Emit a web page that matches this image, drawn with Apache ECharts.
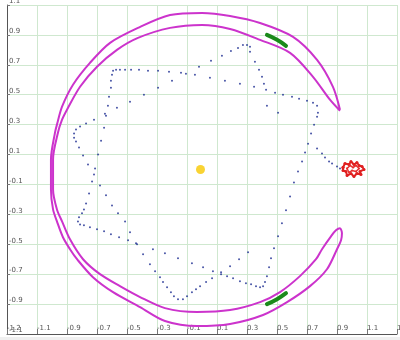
<!DOCTYPE html>
<html><head><meta charset="utf-8">
<script src="https://cdn.jsdelivr.net/npm/echarts@6/dist/echarts.min.js"></script>
<style>html,body{margin:0;padding:0;background:#f0f0f0;overflow:hidden}#c{width:400px;height:337px;background:#fff}</style>
</head><body><div id="c"></div>
<script>
const xTickLabels = ['-1.2','-1.1','-0.9','-0.7','-0.5','-0.3','-0.1','0.1','0.3','0.5','0.7','0.9','1.1','1.3'];
const yTickLabels = ['-1.1','-0.9','-0.7','-0.5','-0.3','-0.1','0.1','0.3','0.5','0.7','0.9','1.1'];

const sunPoint = [[-0.01, 0.0]];

const orbitOuter = [[0.92,0.40],[0.873,0.553],[0.767,0.733],[0.607,0.887],[0.387,0.98],[0.187,1.027],[0.0,1.047],[-0.213,1.033],[-0.427,0.947],[-0.613,0.847],[-0.747,0.713],[-0.86,0.567],[-0.933,0.42],[-0.967,0.30],[-0.98,0.247],[-1.007,0.067],[-1.007,-0.133],[-0.993,-0.267],[-0.967,-0.347],[-0.927,-0.453],[-0.88,-0.533],[-0.833,-0.6],[-0.727,-0.72],[-0.593,-0.82],[-0.413,-0.92],[-0.247,-1.013],[-0.033,-1.047],[0.187,-1.033],[0.407,-0.973],[0.567,-0.887],[0.72,-0.78],[0.833,-0.667],[0.9,-0.533],[0.927,-0.473],[0.933,-0.427],[0.92,-0.393]];
const orbitInner = [[0.893,-0.407],[0.86,-0.447],[0.8,-0.533],[0.76,-0.6],[0.653,-0.713],[0.52,-0.82],[0.387,-0.887],[0.187,-0.94],[-0.033,-0.953],[-0.247,-0.927],[-0.413,-0.853],[-0.547,-0.78],[-0.68,-0.7],[-0.793,-0.6],[-0.88,-0.467],[-0.933,-0.347],[-0.967,-0.267],[-0.993,-0.133],[-0.993,0.067],[-0.96,0.247],[-0.933,0.333],[-0.9,0.4],[-0.813,0.553],[-0.7,0.687],[-0.567,0.8],[-0.427,0.88],[-0.213,0.947],[0.0,0.967],[0.187,0.94],[0.387,0.867],[0.587,0.78],[0.74,0.62],[0.853,0.467],[0.92,0.393]];

const greenTop = [[0.433,0.9],[0.5,0.867],[0.56,0.827]];
const greenBottom = [[0.433,-0.9],[0.5,-0.867],[0.56,-0.827]];

const probeChordA = [[0.320,0.820],[0.300,0.833],[0.273,0.833],[0.240,0.813],[0.193,0.793],[0.133,0.760],[0.060,0.727],[-0.020,0.687],[-0.107,0.640],[-0.200,0.593],[-0.293,0.547],[-0.387,0.500],[-0.480,0.453],[-0.567,0.413],[-0.647,0.373],[-0.720,0.333],[-0.773,0.307],[-0.813,0.287],[-0.840,0.267],[-0.853,0.240],[-0.853,0.213],[-0.840,0.187]];
const probeChordB = [[-0.820,0.147],[-0.793,0.093],[-0.760,0.033],[-0.720,-0.033],[-0.680,-0.107],[-0.640,-0.173],[-0.600,-0.240],[-0.560,-0.293],[-0.513,-0.347],[-0.480,-0.420],[-0.440,-0.493],[-0.393,-0.567],[-0.347,-0.633],[-0.313,-0.680],[-0.280,-0.720],[-0.260,-0.753],[-0.233,-0.787],[-0.207,-0.820],[-0.187,-0.847],[-0.160,-0.867],[-0.127,-0.867],[-0.100,-0.847]];
const probeChordE = [[-0.067,-0.820],[-0.040,-0.800],[-0.013,-0.780],[0.027,-0.753],[0.067,-0.727],[0.127,-0.687],[0.187,-0.647],[0.247,-0.600],[0.307,-0.553]];
const probeChordC = [[-0.800,-0.293],[-0.820,-0.320],[-0.827,-0.347],[-0.813,-0.367],[-0.787,-0.373],[-0.747,-0.387],[-0.700,-0.400],[-0.653,-0.413],[-0.607,-0.433],[-0.553,-0.453],[-0.493,-0.473],[-0.433,-0.500],[-0.327,-0.533],[-0.247,-0.560],[-0.160,-0.593],[-0.067,-0.627],[0.007,-0.653],[0.073,-0.680],[0.127,-0.700],[0.167,-0.713],[0.207,-0.727],[0.253,-0.747],[0.293,-0.760],[0.327,-0.767],[0.360,-0.780],[0.387,-0.787],[0.407,-0.780],[0.420,-0.753]];
const probeChordD = [[0.433,-0.713],[0.447,-0.653],[0.460,-0.593],[0.480,-0.527],[0.507,-0.447],[0.533,-0.360],[0.560,-0.273],[0.587,-0.180],[0.613,-0.087],[0.640,-0.013],[0.667,0.053],[0.687,0.113],[0.707,0.173],[0.727,0.240],[0.747,0.300],[0.767,0.353],[0.773,0.380],[0.767,0.427]];
const probeChordG = [[0.740,0.447],[0.700,0.460],[0.647,0.473],[0.600,0.487],[0.540,0.500],[0.487,0.513],[0.427,0.533],[0.347,0.553],[0.253,0.573],[0.153,0.593],[0.053,0.613],[-0.047,0.633],[-0.140,0.647],[-0.220,0.653],[-0.293,0.660],[-0.360,0.660],[-0.420,0.667],[-0.473,0.667],[-0.513,0.667],[-0.547,0.667],[-0.573,0.667],[-0.593,0.660]];
const probeChordH = [[-0.600,0.633],[-0.607,0.593],[-0.607,0.547],[-0.620,0.487],[-0.627,0.427],[-0.640,0.360],[-0.653,0.280],[-0.673,0.193],[-0.693,0.100],[-0.713,0.007],[-0.733,-0.080],[-0.753,-0.160],[-0.773,-0.227],[-0.787,-0.267]];
const probeFinal = [[0.320,0.787],[0.353,0.720],[0.380,0.667],[0.400,0.620],[0.413,0.573],[0.433,0.427],[0.507,0.380],[0.767,0.140],[0.800,0.107],[0.820,0.080],[0.847,0.053],[0.867,0.040],[0.900,0.020],[0.920,0.007]];

const redBlobOuter = [[0.940,0.013],[0.953,0.040],[0.980,0.033],[0.993,0.053],[1.013,0.033],[1.033,0.047],[1.047,0.027],[1.067,0.020],[1.080,0.000],[1.053,-0.013],[1.060,-0.033],[1.033,-0.027],[1.013,-0.047],[0.993,-0.027],[0.967,-0.040],[0.960,-0.013],[0.940,-0.007],[0.940,0.013]];
const redBlobInner = [[0.967,0.007],[0.987,0.027],[1.007,0.013],[1.027,0.027],[1.047,0.007],[1.027,-0.013],[1.000,-0.007],[0.980,-0.020],[0.967,0.007]];

const probeDots = [].concat(probeChordA, probeChordB, probeChordE, probeChordC, probeChordD, probeChordG, probeChordH, probeFinal);

const chart = echarts.init(document.getElementById('c'), null, {renderer:'canvas'});
const gridColor = '#cfe8cf';
chart.setOption({
  animation:false,
  backgroundColor:'#ffffff',
  grid:{left:7, top:5, width:390, height:329, containLabel:false, outerBoundsMode:'none'},
  xAxis:{type:'value', min:-1.3, max:1.3, interval:0.2,
    axisLine:{show:true, onZero:false, lineStyle:{color:'#555', width:1}},
    axisTick:{show:true, inside:true, length:5, lineStyle:{color:'#777'}},
    axisLabel:{inside:true, margin:2, align:'left', fontSize:7, color:'#555', fontFamily:'DejaVu Sans',
      showMinLabel:true, showMaxLabel:true, hideOverlap:false, formatter:(v,i)=>xTickLabels[i] || ''},
    splitLine:{show:true, lineStyle:{color:gridColor, width:1}}},
  yAxis:{type:'value', min:-1.1, max:1.1, interval:0.2,
    axisLine:{show:true, onZero:false, lineStyle:{color:'#555', width:1}},
    axisTick:{show:true, inside:true, length:3, lineStyle:{color:'#777'}},
    axisLabel:{inside:true, margin:2, align:'left', verticalAlign:'bottom', fontSize:7, color:'#555', fontFamily:'DejaVu Sans',
      showMinLabel:true, showMaxLabel:true, hideOverlap:false, formatter:(v,i)=>yTickLabels[i] || ''},
    splitLine:{show:true, lineStyle:{color:gridColor, width:1}}},
  series:[
    {type:'line', data:orbitOuter.concat(orbitInner), smooth:0.3, symbol:'none', lineStyle:{color:'#cc33cc', width:2}},
    {type:'line', data:greenTop, smooth:true, symbol:'none', lineStyle:{color:'#1a8a1a', width:4, cap:'round'}},
    {type:'line', data:greenBottom, smooth:true, symbol:'none', lineStyle:{color:'#1a8a1a', width:4, cap:'round'}},
    {type:'scatter', data:probeDots, symbol:'circle', symbolSize:2, itemStyle:{color:'#1a2a90'}},
    {type:'line', data:redBlobOuter, symbol:'circle', symbolSize:3, lineStyle:{color:'#e02020', width:2}, itemStyle:{color:'#e02020'}},
    {type:'line', data:redBlobInner, symbol:'circle', symbolSize:2, lineStyle:{color:'#e83030', width:1.5}, itemStyle:{color:'#e83030'}},
    {type:'scatter', data:sunPoint, symbol:'circle', symbolSize:9, itemStyle:{color:'#f8c800'}}
  ]
});
</script></body></html>
